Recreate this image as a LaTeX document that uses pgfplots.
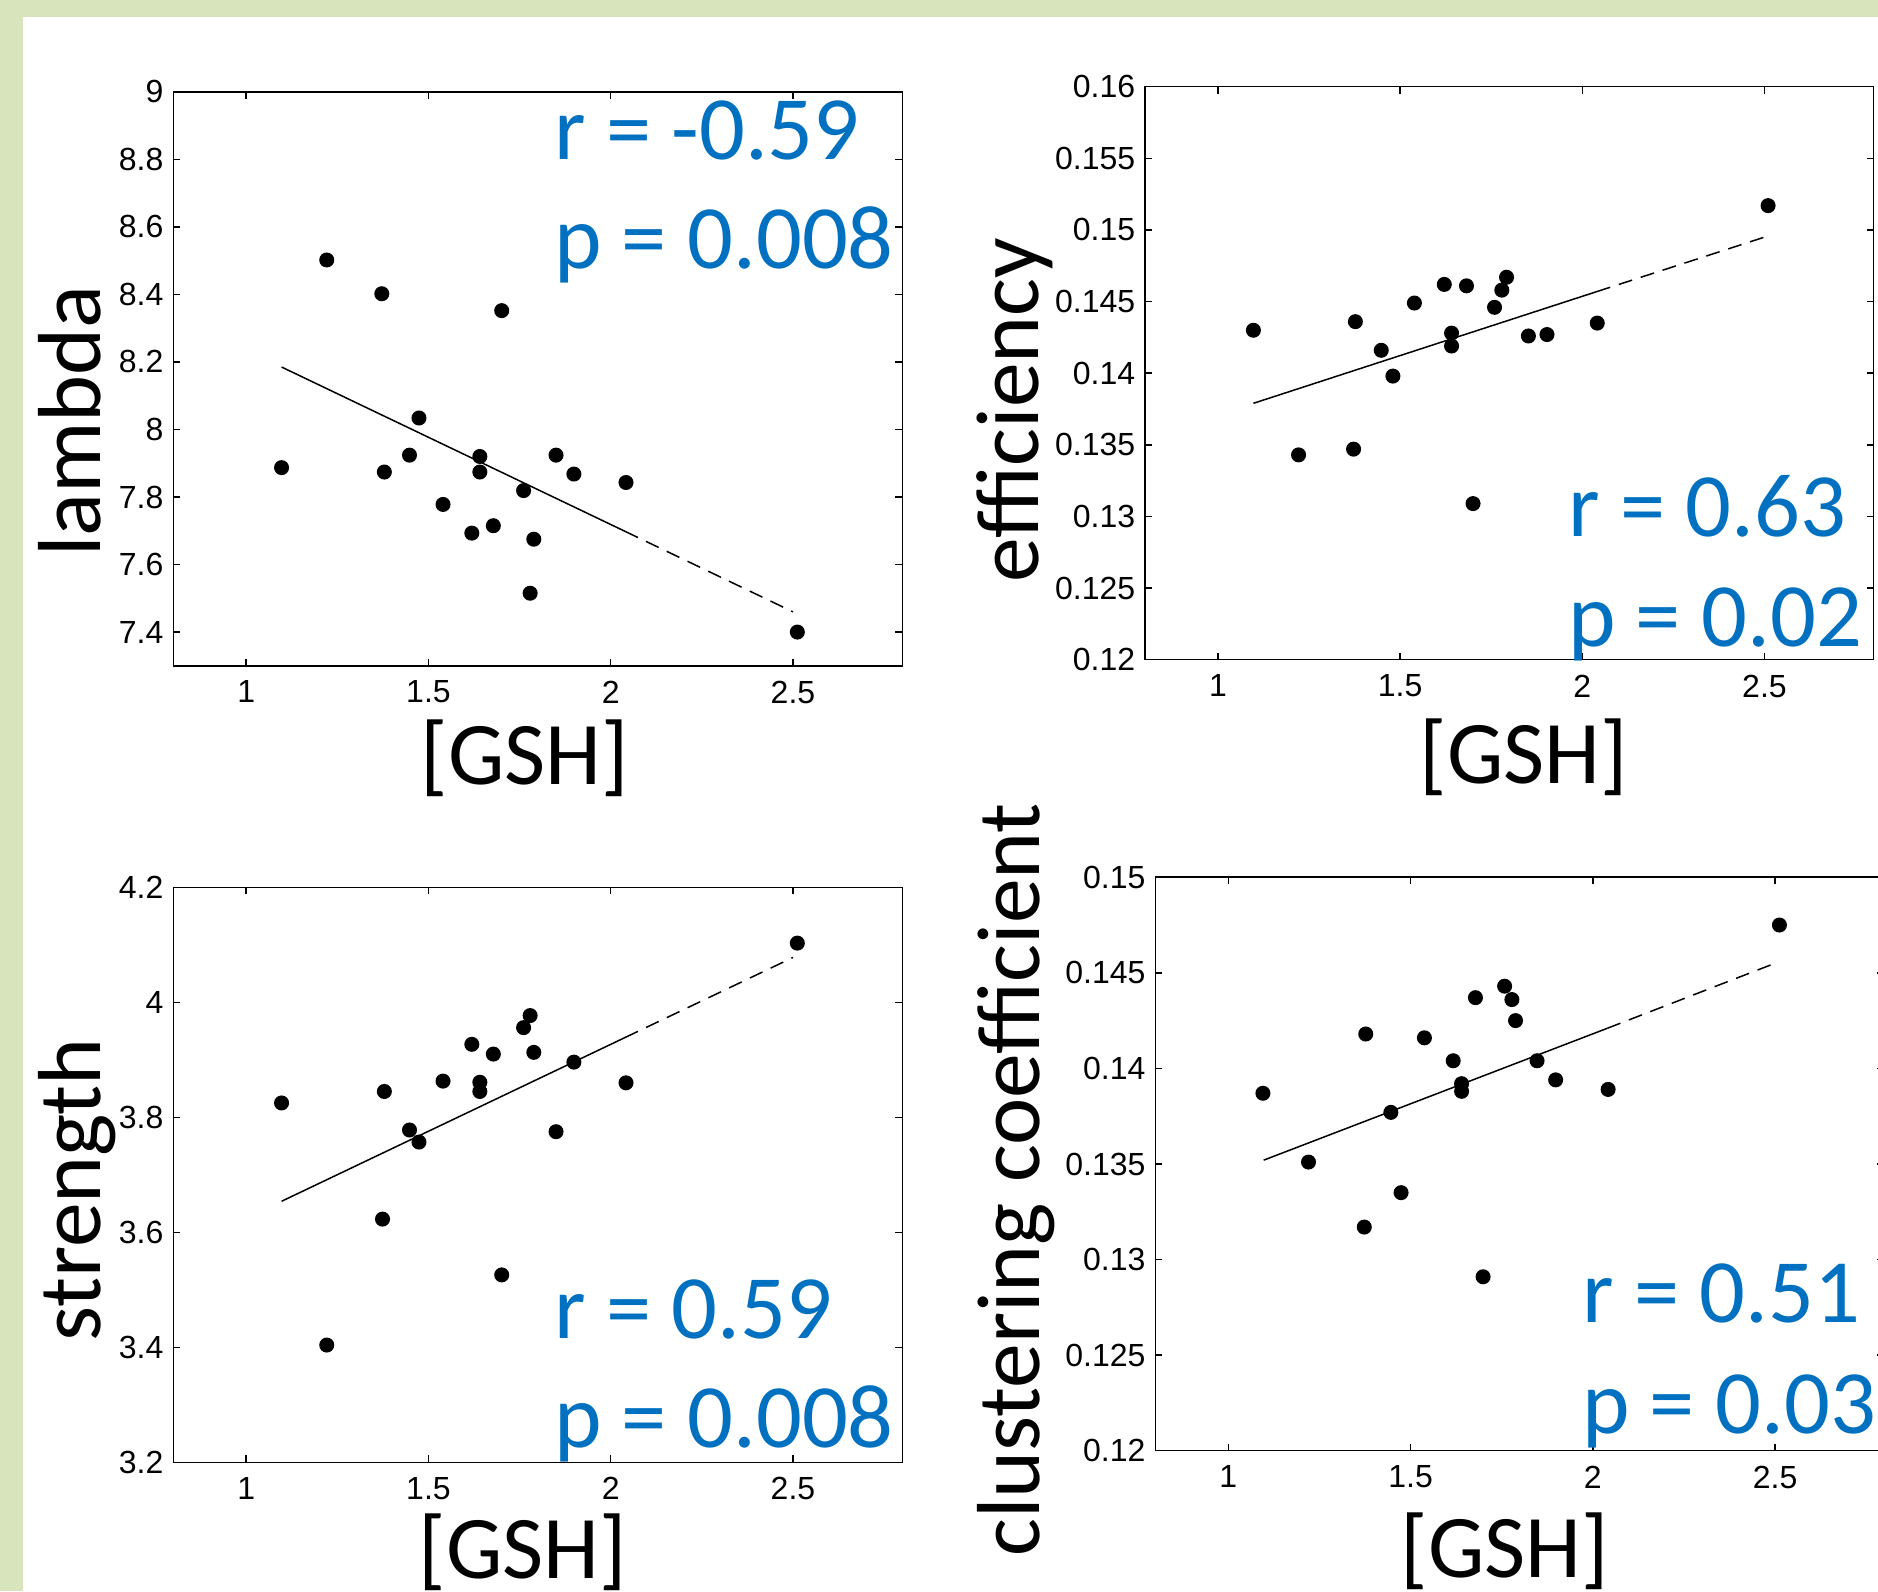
\documentclass[border=0pt]{standalone}
\usepackage{fontspec}
\setmainfont{Carlito}
\newfontfamily\tickfont{Liberation Sans}
\usepackage{pgfplots}
\pgfplotsset{compat=1.18}
\definecolor{bggreen}{RGB}{216,228,188}
\definecolor{statblue}{RGB}{0,112,192}
% one pixel of the slide = 0.2pt
\newcommand\pxu{0.2pt}
\newcommand\biglab{\fontsize{17.9}{20}\selectfont}
\newcommand\bigstat{\fontsize{18.1}{20}\selectfont\color{statblue}}

\pgfplotsset{
  gshpanel/.style={
    scale only axis,
    anchor=north west,
    xmin=0.8, xmax=2.8,
    xtick={1,1.5,2,2.5},
    tick align=inside,
    major tick length=1.4pt,
    axis line style={line width=0.3pt},
    every tick/.style={black, line width=0.3pt},
    tick label style={font=\tickfont\fontsize{6.4}{7}\selectfont},
    /pgf/number format/assume math mode=true,
    yticklabel style={inner sep=0pt, xshift=-1.8pt},
    xticklabel style={inner sep=0pt, yshift=-2.8pt},
    scaled y ticks=false,
    clip=false,
  },
  dots/.style={only marks, mark=*, mark size=1.3pt, mark options={fill=black, draw=black}},
  fitsolid/.style={black, line width=0.3pt, no marks},
  fitdash/.style={black, line width=0.3pt, no marks, dash pattern=on 2.8pt off 1.8pt},
}

\begin{document}
\begin{tikzpicture}
\useasboundingbox (0,0) rectangle ({1878*\pxu},{-1591*\pxu});
\clip (0,0) rectangle ({1878*\pxu},{-1591*\pxu});
\fill[bggreen] (0,0) rectangle ({1878*\pxu},{-1591*\pxu});
\fill[white] ({22.7*\pxu},{-16.7*\pxu}) rectangle ({1878*\pxu},{-1591*\pxu});

% lambda
\begin{axis}[gshpanel, at={({173.3*\pxu},{-91.8*\pxu})},
  width=145.8pt, height=114.8pt,
  ymin=7.3, ymax=9, ytick={7.4,7.6,7.8,8,8.2,8.4,8.6,8.8,9}]
\addplot[dots] coordinates {
(1.097,7.887) (1.221,8.502) (1.372,8.402) (1.379,7.874) (1.448,7.924)
(1.474,8.034) (1.540,7.778) (1.619,7.693) (1.641,7.920) (1.641,7.874)
(1.678,7.715) (1.701,8.352) (1.761,7.819) (1.779,7.515) (1.789,7.675)
(1.850,7.924) (1.899,7.868) (2.042,7.843) (2.512,7.400)};
\addplot[fitsolid] coordinates {(1.097,8.185) (2.04,7.698)};
\addplot[fitdash] coordinates {(2.04,7.698) (2.50,7.460)};
\end{axis}

% efficiency
\begin{axis}[gshpanel, at={({1145.2*\pxu},{-86.7*\pxu})},
  width=145.7pt, height=114.6pt,
  ymin=0.12, ymax=0.16,
  ytick={0.12,0.125,0.13,0.135,0.14,0.145,0.15,0.155,0.16},
  yticklabel style={/pgf/number format/.cd, fixed, precision=3}]
\addplot[dots] coordinates {
(1.097,0.1430) (1.221,0.1343) (1.372,0.1347) (1.377,0.1436) (1.448,0.1416)
(1.480,0.1398) (1.539,0.1449) (1.621,0.1462) (1.641,0.1428) (1.641,0.1419)
(1.682,0.1461) (1.700,0.1309) (1.759,0.1446) (1.779,0.1458) (1.792,0.1467)
(1.852,0.1426) (1.903,0.1427) (2.041,0.1435) (2.510,0.1517)};
\addplot[fitsolid] coordinates {(1.097,0.1379) (2.04,0.1457)};
\addplot[fitdash] coordinates {(2.04,0.1457) (2.50,0.1495)};
\end{axis}

% strength
\begin{axis}[gshpanel, at={({173.3*\pxu},{-887.3*\pxu})},
  width=145.8pt, height=115pt,
  ymin=3.2, ymax=4.2, ytick={3.2,3.4,3.6,3.8,4,4.2}]
\addplot[dots] coordinates {
(1.097,3.825) (1.221,3.404) (1.374,3.623) (1.379,3.845) (1.448,3.778)
(1.474,3.757) (1.540,3.863) (1.619,3.927) (1.641,3.861) (1.641,3.845)
(1.678,3.910) (1.701,3.526) (1.761,3.956) (1.779,3.977) (1.789,3.913)
(1.850,3.775) (1.899,3.896) (2.042,3.860) (2.512,4.103)};
\addplot[fitsolid] coordinates {(1.097,3.654) (2.04,3.939)};
\addplot[fitdash] coordinates {(2.04,3.939) (2.50,4.078)};
\end{axis}

% clustering coefficient
\begin{axis}[gshpanel, at={({1155.4*\pxu},{-877.2*\pxu})},
  width=145.8pt, height=114.7pt,
  ymin=0.12, ymax=0.15,
  ytick={0.12,0.125,0.13,0.135,0.14,0.145,0.15},
  yticklabel style={/pgf/number format/.cd, fixed, precision=3}]
\addplot[dots] coordinates {
(1.095,0.1387) (1.220,0.1351) (1.373,0.1317) (1.377,0.1418) (1.446,0.1377)
(1.474,0.1335) (1.538,0.1416) (1.617,0.1404) (1.640,0.1392) (1.640,0.1388)
(1.678,0.1437) (1.699,0.1291) (1.758,0.1443) (1.778,0.1436) (1.788,0.1425)
(1.847,0.1404) (1.898,0.1394) (2.042,0.1389) (2.512,0.1475)};
\addplot[fitsolid] coordinates {(1.097,0.1352) (2.04,0.1421)};
\addplot[fitdash] coordinates {(2.04,0.1421) (2.50,0.1455)};
\end{axis}

% axis titles
\node[rotate=90, anchor=base, font=\biglab] at ({101*\pxu},{-421*\pxu}) {lambda};
\node[rotate=90, anchor=base, font=\biglab] at ({1038*\pxu},{-410*\pxu}) {efficiency};
\node[rotate=90, anchor=base, font=\biglab] at ({101*\pxu},{-1190*\pxu}) {strength};
\node[rotate=90, anchor=base, font=\biglab] at ({1039*\pxu},{-1180*\pxu}) {clustering coefficient};
\node[anchor=base, font=\biglab] at ({525*\pxu},{-784*\pxu}) {[GSH]};
\node[anchor=base, font=\biglab] at ({1524*\pxu},{-783*\pxu}) {[GSH]};
\node[anchor=base, font=\biglab] at ({523*\pxu},{-1578*\pxu}) {[GSH]};
\node[anchor=base, font=\biglab] at ({1505*\pxu},{-1577*\pxu}) {[GSH]};

% statistics
\node[anchor=base west, inner sep=0pt, font=\bigstat] at ({553*\pxu},{-159.2*\pxu}) {r = -0.59};
\node[anchor=base west, inner sep=0pt, font=\bigstat] at ({553*\pxu},{-268.9*\pxu}) {p = 0.008};
\node[anchor=base west, inner sep=0pt, font=\bigstat] at ({1567*\pxu},{-536.7*\pxu}) {r = 0.63};
\node[anchor=base west, inner sep=0pt, font=\bigstat] at ({1567*\pxu},{-646.9*\pxu}) {p = 0.02};
\node[anchor=base west, inner sep=0pt, font=\bigstat] at ({553*\pxu},{-1338.8*\pxu}) {r = 0.59};
\node[anchor=base west, inner sep=0pt, font=\bigstat] at ({553*\pxu},{-1447.3*\pxu}) {p = 0.008};
\node[anchor=base west, inner sep=0pt, font=\bigstat] at ({1581*\pxu},{-1322.2*\pxu}) {r = 0.51};
\node[anchor=base west, inner sep=0pt, font=\bigstat] at ({1581*\pxu},{-1433.1*\pxu}) {p = 0.03};
\end{tikzpicture}
\end{document}
